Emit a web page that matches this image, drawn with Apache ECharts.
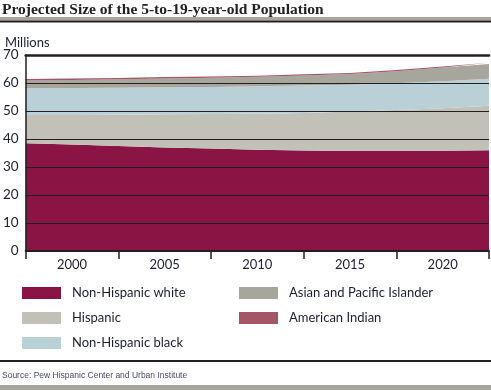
<!DOCTYPE html>
<html><head><meta charset="utf-8">
<script src="https://cdn.jsdelivr.net/npm/echarts@6/dist/echarts.min.js"></script>
<style>html,body{margin:0;padding:0;background:#fff}#c{width:491px;height:390px}</style>
</head><body><div id="c"></div>
<script>
var years = ['1997.5', '2000', '2002.5', '2005', '2007.5', '2010', '2012.5', '2015', '2017.5', '2020', '2022.5'];
var tickLabels = ['2000', '2005', '2010', '2015', '2020'];
var white    = [38.5, 38.0, 37.5, 37.0, 36.6, 36.2, 35.9, 35.7, 35.7, 35.8, 36.0];
var hispanic = [10.1, 10.6, 11.2, 11.8, 12.3, 12.8, 13.4, 14.1, 14.7, 15.2, 15.9];
var black    = [9.5, 9.6, 9.6, 9.7, 9.7, 9.8, 9.8, 9.6, 9.5, 9.6, 9.6];
var asian    = [2.8, 2.9, 3.0, 3.1, 3.3, 3.4, 3.6, 3.8, 4.3, 4.9, 5.3];
var amind    = [0.5, 0.5, 0.5, 0.5, 0.4, 0.4, 0.4, 0.4, 0.4, 0.4, 0.4];
var names = ['Non-Hispanic white', 'Hispanic', 'Non-Hispanic black', 'Asian and Pacific Islander', 'American Indian'];
var colors = ['#8A1544', '#C2C1B8', '#B9D0D6', '#A7A69C', '#A35668'];
var values = [white, hispanic, black, asian, amind];

var txt = '#1e1e33';
var chart = echarts.init(document.getElementById('c'));
chart.setOption({
  animation: false,
  title: [
    {text: 'Projected Size of the 5-to-19-year-old Population', left: 2, top: 2, padding: 0,
     textStyle: {fontFamily: 'Liberation Serif', fontWeight: 'bold', fontSize: 15.5, color: '#222'}},
    {text: 'Millions', left: 5, top: 36, padding: 0, textStyle: {fontFamily: 'Lato', fontWeight: 'normal', fontSize: 13, color: txt}},
    {text: 'Source: Pew Hispanic Center and Urban Institute', left: 2, top: 371, padding: 0,
     textStyle: {fontFamily: 'Liberation Sans', fontWeight: 'normal', fontSize: 8.5, color: '#4a4a66'}}
  ],
  graphic: [
    {type: 'rect', shape: {x: 0, y: 17, width: 491, height: 3.5}, style: {fill: '#A7A69C'}},
    {type: 'rect', shape: {x: 0, y: 20.5, width: 491, height: 2}, style: {fill: '#231F20'}},
    {type: 'rect', shape: {x: 0, y: 360, width: 491, height: 2}, style: {fill: '#231F20'}},
    {type: 'rect', shape: {x: 0, y: 385, width: 491, height: 5}, style: {fill: '#A7A69C'}}
  ],
  legend: [
    {left: 22, top: 286.5, padding: 0, orient: 'vertical', icon: 'rect', itemWidth: 39, itemHeight: 12, itemGap: 12,
     data: names.slice(0,3), textStyle: {fontFamily: 'Lato', fontSize: 13, lineHeight: 12, color: txt, padding: [0,0,0,6]}},
    {left: 239, top: 286.5, padding: 0, orient: 'vertical', icon: 'rect', itemWidth: 39, itemHeight: 12, itemGap: 12,
     data: names.slice(3), textStyle: {fontFamily: 'Lato', fontSize: 13, lineHeight: 12, color: txt, padding: [0,0,0,6]}}
  ],
  grid: {left: 22, right: 2, top: 55, bottom: 139, containLabel: false},
  xAxis: [
    {type: 'category', data: years, boundaryGap: false, show: false},
    {type: 'category', data: tickLabels, boundaryGap: true, position: 'bottom', z: 5,
     axisLine: {show: true, lineStyle: {color: '#231F20', width: 2}},
     axisTick: {show: true, length: 8, lineStyle: {color: '#231F20', width: 1.5}},
     axisLabel: {margin: 7, fontFamily: 'Lato', fontSize: 13, color: txt},
     splitLine: {show: false}},
    {type: 'category', data: tickLabels, position: 'top', z: 5,
     axisLine: {show: true, lineStyle: {color: '#231F20', width: 2.5}},
     axisTick: {show: false}, axisLabel: {show: false}}
  ],
  yAxis: {type: 'value', min: 0, max: 70, interval: 10, z: 5,
    axisLine: {show: true, lineStyle: {color: '#231F20', width: 1.5}},
    axisTick: {show: false},
    axisLabel: {margin: 7, fontFamily: 'Lato', fontSize: 13.5, color: txt},
    splitLine: {show: true, lineStyle: {color: '#231F20', width: 1}}},
  series: values.map(function(v, i){
    return {name: names[i], type: 'line', stack: 'total', xAxisIndex: 0, yAxisIndex: 0,
      data: v, showSymbol: false, symbol: 'none', z: 2,
      lineStyle: {width: 0}, itemStyle: {color: colors[i]},
      areaStyle: {color: colors[i], opacity: 1}};
  })
});
</script></body></html>
